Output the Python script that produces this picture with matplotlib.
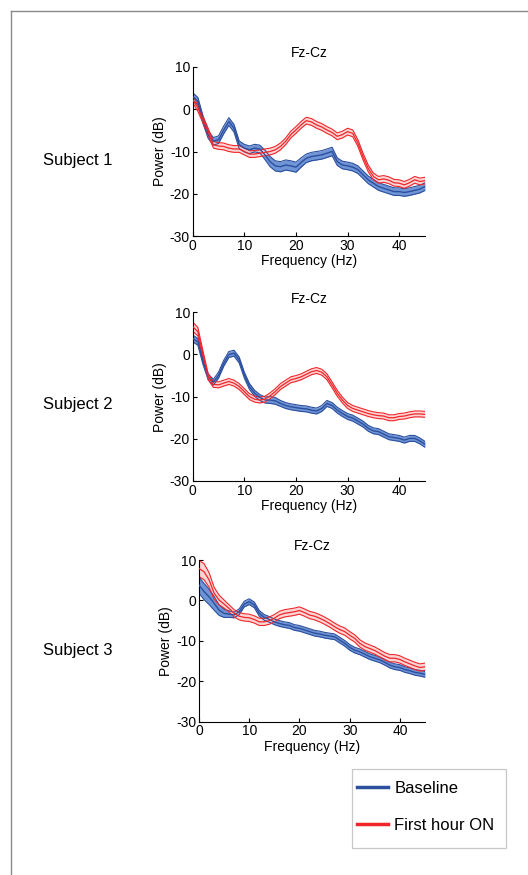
import matplotlib
matplotlib.use("Agg")
import matplotlib.pyplot as plt
from matplotlib.lines import Line2D
from matplotlib.patches import Rectangle
import numpy as np

plt.rcParams['font.family'] = ['Liberation Sans', 'DejaVu Sans']
plt.rcParams['axes.unicode_minus'] = False

# ---------------- data ----------------
freq = list(range(0, 46))

s1_base = [3.0, 1.9, -2.5, -6.0, -7.6, -7.2, -4.9, -2.9, -4.5, -8.4, -9.2, -9.6, -9.2, -9.4, -10.8,
           -12.4, -13.4, -13.6, -13.2, -13.4, -13.7, -12.6, -11.6, -11.2, -11.0, -10.8, -10.4, -10.0,
           -12.4, -13.2, -13.4, -13.7, -14.3, -15.5, -16.7, -17.5, -18.3, -18.7, -19.1, -19.5, -19.5,
           -19.7, -19.5, -19.2, -18.9, -18.3]
s1_base_sem = [0.9, 0.9, 0.9, 0.9, 0.9, 0.9, 0.9, 0.9, 0.9, 0.9, 0.9, 0.9, 0.9, 0.9, 1.1,
               1.2, 1.2, 1.2, 1.2, 1.2, 1.2, 1.1, 1.0, 1.0, 1.0, 1.0, 1.0, 1.0,
               0.9, 0.9, 0.9, 0.9, 0.9, 0.9, 0.9, 0.9, 0.9, 0.9, 0.9, 0.9, 0.9,
               0.9, 0.9, 0.9, 0.9, 0.9]
s1_on = [2.3, 0.3, -2.5, -5.3, -8.4, -8.7, -8.8, -9.2, -9.4, -9.4, -10.0, -10.6, -10.6, -10.4, -10.2,
         -10.0, -9.6, -8.8, -7.6, -6.0, -4.9, -3.7, -2.7, -3.0, -3.7, -4.2, -4.9, -5.5,
         -6.4, -6.0, -5.3, -5.7, -8.0, -11.2, -14.0, -15.9, -16.7, -16.5, -16.8, -17.4, -17.5,
         -17.9, -17.4, -16.7, -17.1, -16.9]
s1_on_sem = [0.8, 0.8, 0.8, 0.8, 0.8, 0.8, 0.8, 0.8, 0.8, 0.8, 0.8, 0.8, 0.8, 0.8, 0.8,
             0.8, 0.8, 0.8, 0.8, 0.8, 0.8, 0.8, 0.8, 0.8, 0.8, 0.8, 0.8, 0.8,
             0.8, 0.8, 0.8, 0.8, 0.8, 0.8, 0.8, 0.8, 0.8, 0.8, 0.8, 0.8, 0.8,
             0.8, 0.8, 0.8, 0.8, 0.8]

s2_base = [3.8, 3.0, -1.7, -5.3, -6.6, -4.9, -2.1, 0.0, 0.3, -1.3, -4.9, -7.6, -9.2, -10.2, -10.8,
           -10.8, -11.0, -11.6, -12.1, -12.4, -12.6, -12.8, -12.9, -13.2, -13.4, -12.8, -11.6, -12.1,
           -13.2, -14.0, -14.7, -15.1, -15.8, -16.5, -17.5, -18.1, -18.3, -18.9, -19.5, -19.7, -19.9,
           -20.3, -19.9, -19.9, -20.5, -21.3]
s2_base_sem = [0.8, 0.8, 0.7, 0.7, 0.7, 0.7, 0.7, 0.7, 0.7, 0.7, 0.7, 0.7, 0.7, 0.7, 0.7,
               0.8, 0.8, 0.7, 0.7, 0.7, 0.7, 0.7, 0.7, 0.7, 0.7, 0.7, 0.7, 0.7,
               0.7, 0.7, 0.7, 0.7, 0.7, 0.7, 0.7, 0.7, 0.7, 0.7, 0.7, 0.7, 0.7,
               0.7, 0.7, 0.7, 0.7, 0.7]
s2_on = [6.6, 5.4, 0.0, -5.3, -7.1, -7.2, -6.8, -6.4, -6.8, -7.6, -8.8, -10.0, -10.6, -10.8, -10.6,
         -9.8, -8.8, -7.6, -6.8, -6.0, -5.7, -5.3, -4.7, -4.1, -3.8, -4.2, -5.3, -7.2,
         -9.2, -10.8, -12.1, -12.8, -13.2, -13.6, -14.0, -14.3, -14.5, -14.6, -15.0, -15.0, -14.7,
         -14.6, -14.3, -14.1, -14.1, -14.2]
s2_on_sem = [1.1, 1.0, 0.8, 0.7, 0.7, 0.7, 0.7, 0.7, 0.7, 0.7, 0.7, 0.7, 0.7, 0.7, 0.7,
             0.7, 0.7, 0.7, 0.7, 0.7, 0.7, 0.7, 0.7, 0.7, 0.7, 0.7, 0.7, 0.7,
             0.7, 0.7, 0.7, 0.7, 0.7, 0.7, 0.7, 0.7, 0.7, 0.7, 0.7, 0.7, 0.7,
             0.7, 0.7, 0.7, 0.7, 0.7]

s3_base = [3.8, 2.2, 0.9, -0.7, -2.4, -3.2, -3.4, -3.6, -2.8, -0.9, -0.3, -1.1, -3.2, -4.2, -4.7,
           -5.3, -5.7, -6.0, -6.2, -6.7, -6.9, -7.3, -7.7, -8.1, -8.3, -8.6, -8.8, -9.0,
           -9.8, -10.6, -11.6, -12.3, -12.7, -13.3, -13.9, -14.3, -14.7, -15.3, -16.0, -16.4, -16.6,
           -17.1, -17.4, -17.8, -18.0, -18.3]
s3_base_sem = [2.0, 2.0, 1.9, 1.7, 1.3, 1.0, 0.8, 0.7, 0.7, 0.7, 0.7, 0.7, 0.7, 0.7, 0.7,
               0.7, 0.7, 0.7, 0.7, 0.7, 0.7, 0.7, 0.7, 0.7, 0.7, 0.7, 0.7, 0.7,
               0.7, 0.7, 0.7, 0.7, 0.7, 0.7, 0.7, 0.7, 0.7, 0.7, 0.7, 0.7, 0.7,
               0.7, 0.7, 0.7, 0.7, 0.7]
s3_on = [7.9, 7.1, 5.1, 1.8, 0.1, -0.9, -2.0, -3.2, -3.9, -4.2, -4.3, -4.7, -5.3, -5.3, -5.0,
         -4.4, -3.6, -3.2, -3.0, -2.8, -2.5, -3.0, -3.6, -3.9, -4.4, -5.0, -5.7, -6.5,
         -7.2, -7.7, -8.6, -9.4, -10.6, -11.4, -11.9, -12.4, -13.1, -13.8, -14.3, -14.3, -14.6,
         -15.2, -15.7, -16.2, -16.6, -16.4]
s3_on_sem = [2.0, 2.0, 1.8, 1.5, 1.2, 1.0, 0.9, 0.9, 0.9, 0.9, 0.9, 0.9, 0.9, 0.9, 0.9,
             0.9, 0.9, 0.9, 0.9, 0.9, 0.9, 0.9, 0.9, 0.9, 0.9, 0.9, 0.9, 0.9,
             0.9, 0.9, 0.9, 0.9, 0.9, 0.9, 0.9, 0.9, 0.9, 0.9, 0.9, 0.9, 0.9,
             0.9, 0.9, 0.9, 0.9, 0.9]

subjects = ["Subject 1", "Subject 2", "Subject 3"]
channel = "Fz-Cz"
legend_labels = ["Baseline", "First hour ON"]
xticks = [0, 10, 20, 30, 40]
yticks = [-30, -20, -10, 0, 10]

series = [
    (s1_base, s1_base_sem, s1_on, s1_on_sem),
    (s2_base, s2_base_sem, s2_on, s2_on_sem),
    (s3_base, s3_base_sem, s3_on, s3_on_sem),
]

# ---------------- styles ----------------
W, H = 528, 875
BLUE_LINE = "#2c4f9e"
BLUE_FILL = "#6f95d6"
RED_LINE = "#f0262a"
RED_FILL = "#fbd0d0"

fig = plt.figure(figsize=(W / 100, H / 100), dpi=100)

# axes boxes in pixels: (left, right, top, bottom)
boxes = [(192.7, 425, 67, 236), (192.7, 425, 312.3, 481), (199, 425, 560, 721.7)]
label_y = [160, 405, 650]


def draw_band(ax, x, m, s, line_c, fill_c, fill_alpha, edge_lw, mean_lw):
    m = np.asarray(m)
    s = np.asarray(s)
    ax.fill_between(x, m - s, m + s, color=fill_c, alpha=fill_alpha, lw=0, zorder=1)
    ax.plot(x, m + s, color=line_c, lw=edge_lw, zorder=2)
    ax.plot(x, m - s, color=line_c, lw=edge_lw, zorder=2)
    ax.plot(x, m, color=line_c, lw=mean_lw, zorder=3)


for i, (box, (b, bs, r, rs)) in enumerate(zip(boxes, series)):
    l, rgt, t, btm = box
    ax = fig.add_axes([l / W, 1 - btm / H, (rgt - l) / W, (btm - t) / H])
    draw_band(ax, freq, b, bs, BLUE_LINE, BLUE_FILL, 1.0, 0.8, 1.0)
    draw_band(ax, freq, r, rs, RED_LINE, RED_FILL, 0.9, 0.8, 0.9)
    ax.set_xlim(0, 45)
    ax.set_ylim(-30, 10)
    ax.set_xticks(xticks)
    ax.set_yticks(yticks)
    ax.spines['top'].set_visible(False)
    ax.spines['right'].set_visible(False)
    for sp in ('left', 'bottom'):
        ax.spines[sp].set_linewidth(0.8)
    ax.tick_params(direction='in', length=3, width=0.8, labelsize=10, pad=2)
    ax.set_xlabel("Frequency (Hz)", fontsize=10, labelpad=1)
    ax.set_ylabel("Power (dB)", fontsize=10, labelpad=2)
    ax.set_title(channel, fontsize=10, pad=7)
    ax.set_facecolor('none')
    fig.text(43 / W, 1 - label_y[i] / H, subjects[i], fontsize=12, ha='left', va='center')

# frame lines (page border)
fig.add_artist(Line2D([10.5 / W, 10.5 / W], [0, 1 - 10.5 / H], transform=fig.transFigure,
                      color="#8a8a8a", lw=1.0))
fig.add_artist(Line2D([10.5 / W, 1], [1 - 10.5 / H, 1 - 10.5 / H], transform=fig.transFigure,
                      color="#8a8a8a", lw=1.0))

# legend box
fig.add_artist(Rectangle((352 / W, 1 - 848 / H), (506 - 352) / W, (848 - 769) / H,
                         transform=fig.transFigure, facecolor='white', edgecolor='#c8c8c8', lw=0.9))
handles = [Line2D([], [], color=BLUE_LINE, lw=2.5), Line2D([], [], color=RED_LINE, lw=2.5)]
fig.legend(handles, legend_labels, loc='upper left', bbox_to_anchor=(357 / W, 1 - 781 / H),
           frameon=False, fontsize=12, handlelength=1.85, handletextpad=0.4,
           labelspacing=1.3, borderpad=0, borderaxespad=0)

fig.savefig("out.png", dpi=100)
